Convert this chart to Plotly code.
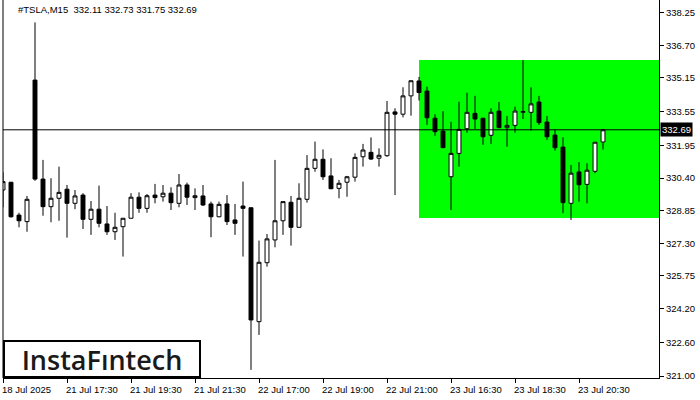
import plotly.graph_objects as go

# ---- data ----
opens = [329.83, 330.20, 328.64, 328.33, 335.05, 330.35, 329.04, 329.44, 329.87, 329.20,
         329.59, 328.44, 328.92, 328.22, 327.85, 328.09, 328.49, 329.49, 328.96, 329.59,
         329.51, 329.68, 329.20, 330.07, 329.47, 329.55, 329.17, 328.56, 329.17, 328.41,
         329.07, 328.99, 323.58, 326.38, 327.46, 328.37, 329.25, 328.06, 329.39, 330.86,
         331.29, 330.50, 329.91, 330.20, 330.44, 331.41, 331.62, 331.34, 331.46, 333.54,
         333.43, 334.30, 335.01, 334.53, 333.24, 332.63, 330.46, 331.57, 332.74, 333.47,
         333.24, 332.43, 333.58, 332.79, 332.90, 333.52, 333.52, 334.01, 333.06, 332.44,
         331.87, 329.20, 330.69, 330.10, 330.72, 332.11]
highs = [330.67, 330.21, 328.75, 329.55, 337.79, 331.26, 330.39, 330.94, 330.07, 329.83,
         329.68, 329.31, 330.04, 329.07, 328.75, 328.49, 329.68, 329.72, 329.64, 330.12,
         330.07, 329.96, 330.59, 330.18, 329.91, 330.07, 329.28, 329.28, 329.59, 329.17,
         330.23, 328.99, 327.43, 327.74, 331.26, 329.28, 329.55, 330.15, 331.49, 332.13,
         331.76, 331.34, 330.31, 330.50, 331.57, 332.02, 332.33, 331.81, 334.06, 333.71,
         334.71, 335.02, 335.20, 334.74, 333.43, 333.58, 333.07, 334.02, 334.45, 334.30,
         333.24, 333.71, 334.01, 333.35, 333.79, 336.00, 334.71, 334.30, 333.35, 332.71,
         332.33, 331.02, 331.16, 331.10, 332.10, 332.73]
lows = [329.01, 328.52, 328.06, 327.85, 330.27, 328.61, 328.30, 328.37, 327.57, 328.92,
        327.98, 327.70, 328.06, 327.70, 327.46, 326.67, 328.49, 328.75, 328.75, 329.20,
        329.28, 328.88, 329.01, 329.12, 328.88, 329.07, 327.59, 328.54, 328.17, 327.70,
        326.67, 321.29, 322.95, 326.19, 327.11, 327.70, 327.19, 328.06, 329.23, 330.70,
        330.31, 329.89, 329.44, 329.51, 330.23, 330.94, 331.26, 330.94, 331.41, 329.59,
        333.28, 333.36, 334.08, 332.92, 332.41, 331.84, 328.88, 330.94, 332.55, 332.73,
        331.97, 332.02, 332.79, 331.89, 332.55, 333.20, 332.65, 332.92, 332.21, 331.70,
        328.73, 328.41, 329.28, 329.20, 330.63, 331.75]
closes = [330.23, 328.56, 328.37, 329.39, 330.35, 329.04, 329.44, 329.72, 329.20, 329.55,
          328.44, 328.92, 328.25, 327.85, 328.06, 328.49, 329.49, 328.96, 329.56, 329.47,
          329.68, 329.23, 330.07, 329.49, 329.56, 329.12, 328.56, 329.15, 328.33, 328.25,
          328.96, 323.66, 326.40, 327.51, 328.37, 329.28, 328.06, 329.44, 330.86, 331.29,
          330.46, 329.89, 330.15, 330.46, 331.38, 331.73, 331.30, 331.48, 333.52, 333.43,
          334.30, 335.02, 334.46, 333.26, 332.60, 331.84, 331.57, 332.71, 333.52, 333.20,
          332.36, 333.52, 332.79, 332.90, 333.58, 333.56, 333.92, 333.03, 332.36, 331.84,
          329.23, 330.63, 330.08, 330.77, 332.10, 332.69]

x_tick_index = [0, 8, 16, 24, 32, 40, 48, 56, 64, 72]
x_tick_labels = ["18 Jul 2025", "21 Jul 17:30", "21 Jul 19:30", "21 Jul 21:30",
                 "22 Jul 17:00", "22 Jul 19:00", "22 Jul 21:00", "23 Jul 16:30",
                 "23 Jul 18:30", "23 Jul 20:30"]
y_tick_values = [338.25, 336.70, 335.15, 333.55, 331.95, 330.40, 328.85, 327.30,
                 325.75, 324.20, 322.60, 321.00]
y_tick_labels = ["338.25", "336.70", "335.15", "333.55", "331.95", "330.40", "328.85",
                 "327.30", "325.75", "324.20", "322.60", "321.00"]

symbol_title = "#TSLA,M15  332.11 332.73 331.75 332.69"
last_price = 332.69
last_price_label = "332.69"
box_start = 52
box_top = 336.00
box_bottom = 328.50

x = list(range(len(opens)))
FONT = "Liberation Sans"
FS = 9.5

fig = go.Figure()
fig.add_trace(go.Candlestick(
    x=x, open=opens, high=highs, low=lows, close=closes,
    increasing=dict(fillcolor="white", line=dict(color="black", width=1)),
    decreasing=dict(fillcolor="black", line=dict(color="black", width=1)),
    whiskerwidth=0, hoverinfo="none", showlegend=False,
))

x_max = 82
fig.add_shape(type="rect", xref="x", yref="y", x0=box_start, x1=x_max,
              y0=box_bottom, y1=box_top, fillcolor="#00ff00",
              line=dict(width=0), layer="below")
fig.add_shape(type="line", xref="paper", yref="y", x0=0, x1=1,
              y0=last_price, y1=last_price, line=dict(color="black", width=1))
fig.add_shape(type="line", xref="paper", yref="paper", x0=0, x1=0, y0=0, y1=1,
              line=dict(color="black", width=1))

for xi, lab in zip(x_tick_index, x_tick_labels):
    fig.add_annotation(x=xi, y=0, xref="x", yref="paper", text=lab,
                       showarrow=False, xanchor="left", yanchor="top",
                       xshift=-3, yshift=-4,
                       font=dict(family=FONT, size=FS, color="black"))

fig.add_annotation(x=0, y=1, xref="paper", yref="paper", text=symbol_title,
                   showarrow=False, xanchor="left", yanchor="top",
                   xshift=13, yshift=-2,
                   font=dict(family=FONT, size=FS, color="black"))

fig.add_annotation(x=1, y=last_price, xref="paper", yref="y", text=last_price_label,
                   showarrow=False, xanchor="left", yanchor="middle",
                   xshift=1, bgcolor="black", borderpad=1,
                   font=dict(family=FONT, size=FS, color="white"))

fig.add_annotation(x=0, y=0, xref="paper", yref="paper", text="InstaFıntech",
                   showarrow=False, xanchor="left", yanchor="bottom",
                   width=194, height=34, bgcolor="white",
                   bordercolor="black", borderwidth=2, borderpad=0,
                   font=dict(family="Open Sans", size=27, weight=600, color="#1a1a1a"))

fig.update_layout(
    width=700, height=400,
    margin=dict(l=3, r=41, t=0, b=22),
    paper_bgcolor="white", plot_bgcolor="white",
    boxgap=0.3,
    xaxis=dict(range=[0, x_max], rangeslider=dict(visible=False),
               tickvals=x_tick_index, ticktext=[""] * len(x_tick_index),
               ticks="outside", ticklen=4, tickcolor="black",
               showline=True, linecolor="black", linewidth=1,
               showgrid=False, zeroline=False, fixedrange=True),
    yaxis=dict(range=[320.905, 338.853], side="right",
               tickvals=y_tick_values, ticktext=y_tick_labels,
               ticks="outside", ticklen=4, tickcolor="black",
               showline=True, linecolor="black", linewidth=1,
               showgrid=False, zeroline=False, automargin=False,
               tickfont=dict(family=FONT, size=FS, color="black")),
)

fig.write_html("out.html", config={"displayModeBar": False},
               post_script="document.body.style.margin='0';document.body.style.overflow='hidden';")
